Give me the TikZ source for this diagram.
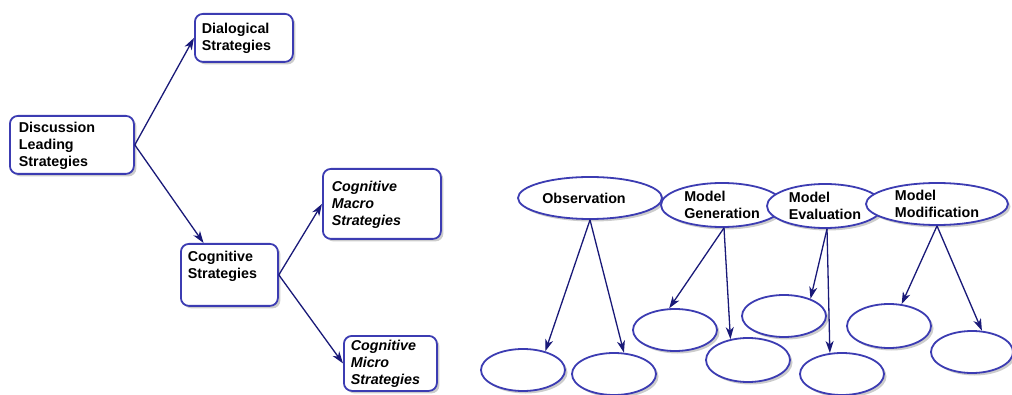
\documentclass[tikz,border=0pt]{standalone}
\usepackage{fontspec}
\setmainfont{Liberation Sans}
\usetikzlibrary{arrows.meta,shapes.geometric,shadows}
\definecolor{edgeblue}{RGB}{60,60,178}
\definecolor{arrblue}{RGB}{25,25,120}
\newcommand{\bxt}[4]{\parbox[b][#1pt][t]{#2pt}{\rule{0pt}{#3pt}#4}}
\begin{document}
\begin{tikzpicture}[x=1pt,y=-1pt,
  font=\fontsize{14.3}{17}\selectfont\bfseries,
  box/.style={draw=edgeblue, line width=1.8pt, rounded corners=8pt, fill=white,
    anchor=north west, inner ysep=0pt,
    drop shadow={shadow xshift=2.5pt,shadow yshift=-2.5pt,fill=black!40}},
  ell/.style={ellipse, draw=edgeblue, line width=1.8pt, fill=white, inner sep=0pt, align=left,
    drop shadow={shadow xshift=2.5pt,shadow yshift=-2.5pt,fill=black!40}},
  small/.style={ell, minimum width=84pt, minimum height=42pt},
  arrow/.style={draw=arrblue, line width=1.3pt, -{Stealth[length=12pt,width=8pt,inset=3.5pt]}}]
\useasboundingbox (0,0) rectangle (1012,395);
% left tree
\node[box, inner xsep=7pt] (dial) at (194,13) {\bxt{48}{84}{20}{Dialogical\\Strategies}};
\node[box, inner xsep=9pt] (disc) at (9,115) {\bxt{58}{106}{17}{Discussion\\Leading\\Strategies}};
\node[box, inner xsep=7pt] (cog) at (180,243) {\bxt{62}{83}{18}{Cognitive\\Strategies}};
\node[box, inner xsep=9pt] (macro) at (322,168) {\bxt{70}{100}{23}{\itshape Cognitive\\Macro\\Strategies}};
\node[box, inner xsep=7pt] (micro) at (343,335) {\bxt{55}{79}{15}{\itshape Cognitive\\Micro\\Strategies}};
\draw[arrow] (disc.east) -- (dial.west);
\draw[arrow] (disc.east) -- (cog.129);
\draw[arrow] (cog.east) -- (macro.west);
\draw[arrow] (cog.east) -- (micro.west);
% right part
\node[ell, minimum width=144pt, minimum height=42pt] (obs) at (590,198) {Observation\hspace{12pt}};
\node[ell, minimum width=122pt, minimum height=44pt] (gen) at (722,205) {Model\\Generation};
\node[ell, minimum width=116pt, minimum height=44pt] (eval) at (825,206) {Model\\Evaluation};
\node[ell, minimum width=142pt, minimum height=42pt] (mod) at (937,204) {Model\\Modification\hspace{12pt}};
\node[small] (e1) at (523,370) {};
\node[small] (e2) at (614,374) {};
\node[small] (e3) at (675,330) {};
\node[small, minimum height=44pt] (e4) at (748,360) {};
\node[small] (e5) at (784,316) {};
\node[small] (e6) at (842,374) {};
\node[small, minimum height=44pt] (e7) at (889,326) {};
\node[small, minimum width=82pt] (e8) at (972,352) {};
\draw[arrow] (obs.south) -- (e1.40);
\draw[arrow] (obs.south) -- (e2.65);
\draw[arrow] (gen.-85) -- (e3.105);
\draw[arrow] (gen.-85) -- (e4.130);
\draw[arrow] (eval.-85) -- (e5.33);
\draw[arrow] (eval.-85) -- (e6.120);
\draw[arrow] (mod.south) -- (e7.60);
\draw[arrow] (mod.south) -- (e8.65);
\end{tikzpicture}
\end{document}
